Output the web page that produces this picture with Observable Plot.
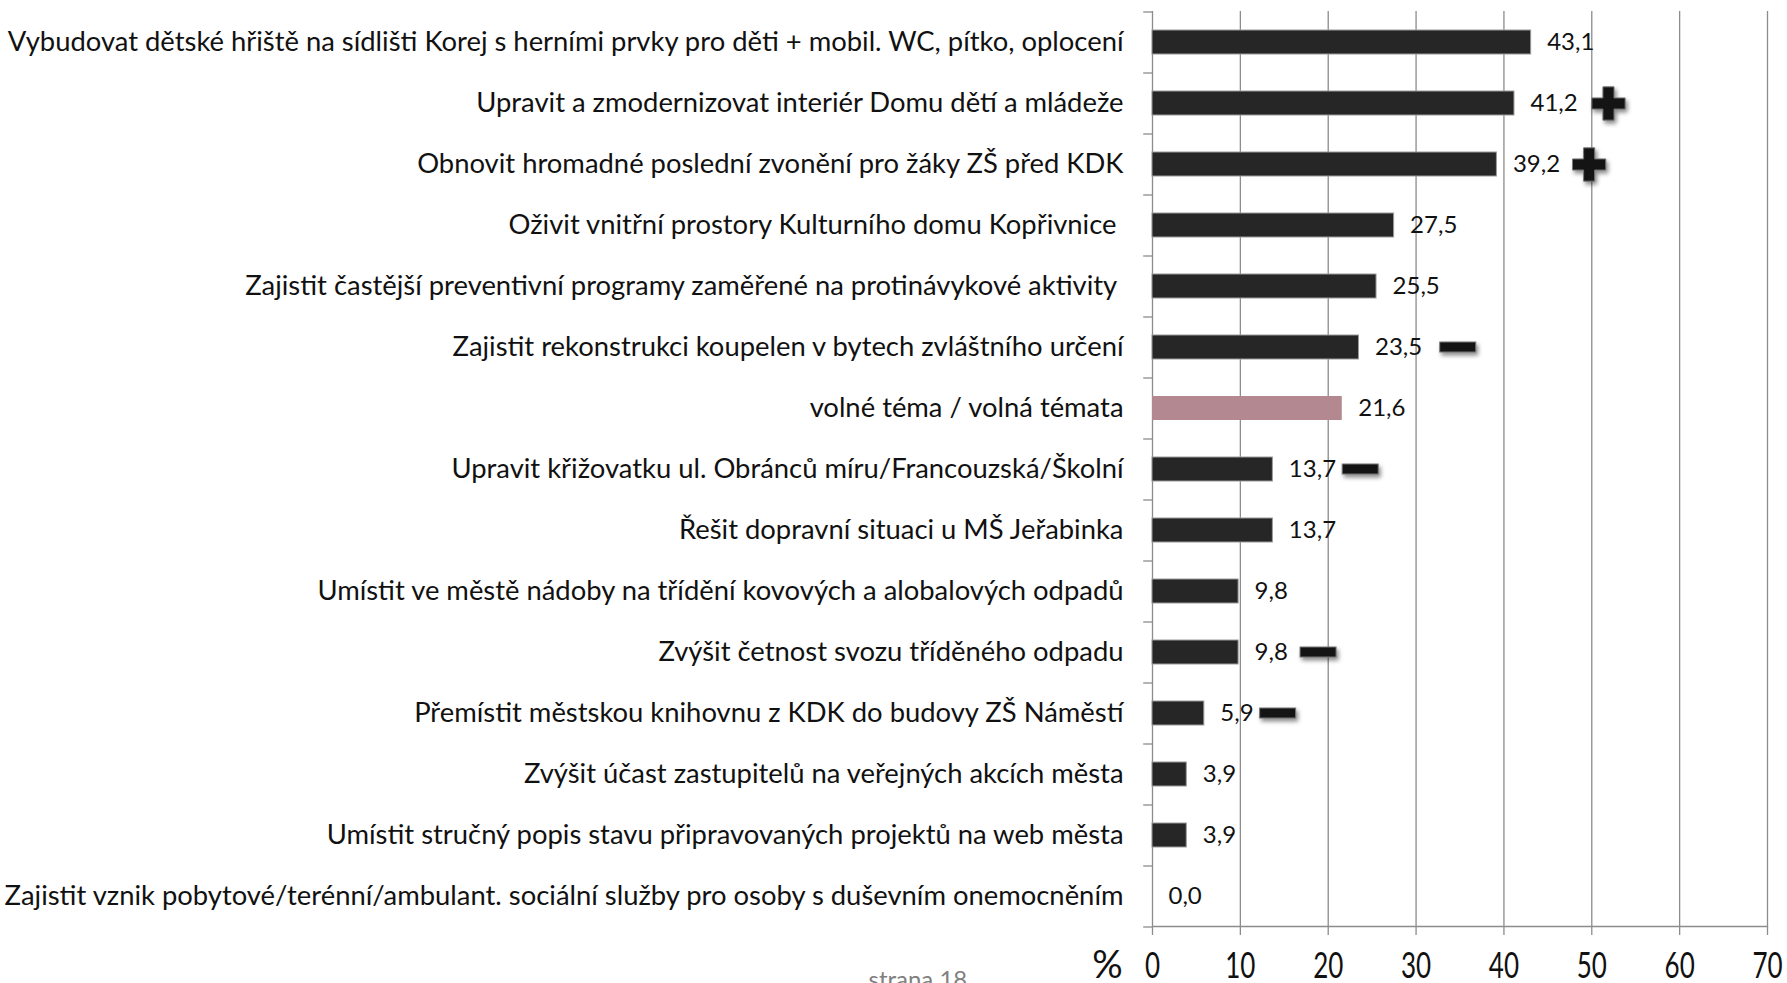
<!DOCTYPE html>
<html><head><meta charset="utf-8">
<script src="https://cdn.jsdelivr.net/npm/d3@7"></script>
<script src="https://cdn.jsdelivr.net/npm/@observablehq/plot@0.6"></script>
<style>
html,body{margin:0;padding:0;background:#fff;}
body{width:1787px;height:983px;overflow:hidden;}
</style></head><body><div id="chart"></div>
<script>
const categories = [
  "Vybudovat dětské hřiště na sídlišti Korej s herními prvky pro děti + mobil. WC, pítko, oplocení",
  "Upravit a zmodernizovat interiér Domu dětí a mládeže",
  "Obnovit hromadné poslední zvonění pro žáky ZŠ před KDK",
  "Oživit vnitřní prostory Kulturního domu Kopřivnice\u00a0",
  "Zajistit častější preventivní programy zaměřené na protinávykové aktivity\u00a0",
  "Zajistit rekonstrukci koupelen v bytech zvláštního určení",
  "volné téma / volná témata",
  "Upravit křižovatku ul. Obránců míru/Francouzská/Školní",
  "Řešit dopravní situaci u MŠ Jeřabinka",
  "Umístit ve městě nádoby na třídění kovových a alobalových odpadů",
  "Zvýšit četnost svozu tříděného odpadu",
  "Přemístit městskou knihovnu z KDK do budovy ZŠ Náměstí",
  "Zvýšit účast zastupitelů na veřejných akcích města",
  "Umístit stručný popis stavu připravovaných projektů na web města",
  "Zajistit vznik pobytové/terénní/ambulant. sociální služby pro osoby s duševním onemocněním"
];
const values = [43.1, 41.2, 39.2, 27.5, 25.5, 23.5, 21.6, 13.7, 13.7, 9.8, 9.8, 5.9, 3.9, 3.9, 0.0];
const highlightCategory = "volné téma / volná témata";
const plusCategories = [categories[1], categories[2]];
const plusPositions = [51.9, 49.7];
const minusCategories = [categories[5], categories[7], categories[10], categories[11]];
const minusPositions = [34.8, 23.7, 18.9, 14.3];
const xTicks = [0, 10, 20, 30, 40, 50, 60, 70];
const unitLabel = "%";
const pageLabel = "strana 18";

const data = categories.map((c, i) => ({category: c, value: values[i], highlight: c === highlightCategory}));
const plus = plusCategories.map((c, i) => ({category: c, x: plusPositions[i]}));
const minus = minusCategories.map((c, i) => ({category: c, x: minusPositions[i]}));

const grey = "#8c8c8c";
const halfStep = 30.5;
const shadow = "drop-shadow(2px 3px 2px rgba(0,0,0,0.45))";

const plot = Plot.plot({
  width: 1787, height: 983,
  marginLeft: 1152, marginRight: 20, marginTop: 11, marginBottom: 57,
  style: {fontFamily: "Lato", background: "white", color: "#111"},
  x: {domain: [0, 70]},
  y: {domain: categories, paddingInner: 0.607, paddingOuter: 0.3035},
  marks: [
    Plot.ruleX(xTicks, {stroke: grey, strokeWidth: 1.3}),
    Plot.frame({anchor: "bottom", stroke: grey, strokeWidth: 1.3}),
    Plot.ruleY(categories.slice(0, 1), {y: d => d, x1: -1, x2: 0, dy: -halfStep, stroke: grey, strokeWidth: 1.3}),
    Plot.ruleY(categories, {y: d => d, x1: -1, x2: 0, dy: halfStep, stroke: grey, strokeWidth: 1.3}),
    Plot.barX(data, {y: "category", x: "value", fill: d => d.highlight ? "#b48891" : "#262626", stroke: d => d.highlight ? "none" : "#9a9a9a", strokeWidth: 1}),
    Plot.text(data, {y: "category", x: "value", text: d => d.value.toFixed(1).replace(".", ","), dx: 16, textAnchor: "start", fontSize: 24, fill: "#111"}),
    Plot.dot(plus, {x: "x", y: "category", symbol: "cross", r: 14, fill: "#141414", stroke: "#777", strokeWidth: 1, imageFilter: shadow}),
    Plot.barX(minus, {y: "category", x1: d => d.x - 2.05, x2: d => d.x + 2.05, insetTop: 7, insetBottom: 7, fill: "#141414", stroke: "#777", strokeWidth: 1, imageFilter: shadow}),
    Plot.axisY({tickSize: 0, tickPadding: 29, fontSize: 27.4, label: null, fill: "#111"}),
    Plot.axisX(xTicks, {tickSize: 9, tickPadding: 17, fontSize: 26, stroke: grey, strokeWidth: 1.3, label: null, fill: "#111"}),
    Plot.text([unitLabel], {frameAnchor: "bottom-left", dx: -45, dy: 51, textAnchor: "middle", lineAnchor: "bottom", fontSize: 38, fill: "#111"}),
    Plot.text([pageLabel], {frameAnchor: "bottom-left", dx: -284, dy: 61, textAnchor: "start", lineAnchor: "bottom", fontSize: 24, fill: "#808080"})
  ]
});
document.getElementById("chart").appendChild(plot);

// vertical stretch of the x tick labels, as in the reference
d3.select(plot).selectAll('g[aria-label="x-axis tick label"] text').each(function () {
  const t = this.getAttribute("transform") || "";
  this.setAttribute("transform", t + " scale(1,1.38)");
});
</script></body></html>
